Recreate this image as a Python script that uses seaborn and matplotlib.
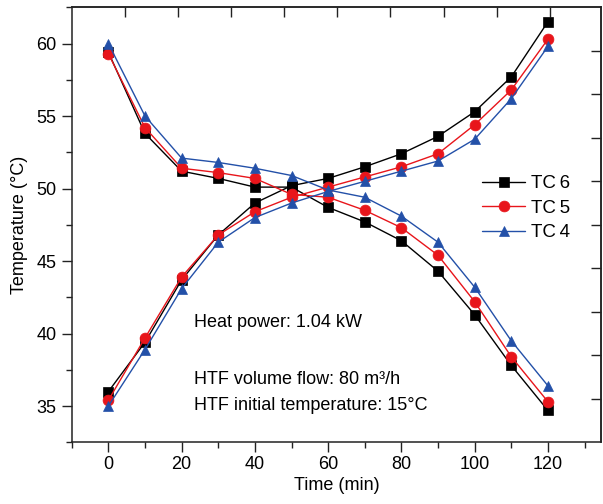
import numpy as np
import pandas as pd
import matplotlib
matplotlib.use("Agg")
import matplotlib.pyplot as plt
import seaborn as sns
from matplotlib.ticker import MultipleLocator, NullFormatter
from matplotlib.lines import Line2D

sns.set_theme(style="ticks")
plt.rcParams["font.family"] = ["Liberation Sans", "DejaVu Sans"]
plt.rcParams["text.color"] = "black"
plt.rcParams["axes.labelcolor"] = "black"
plt.rcParams["xtick.labelcolor"] = "black"
plt.rcParams["ytick.labelcolor"] = "black"

# Measured temperatures (°C) every 10 min for three thermocouples
time_min = [0, 10, 20, 30, 40, 50, 60, 70, 80, 90, 100, 110, 120]

tc6_falling = [59.4, 53.8, 51.2, 50.7, 50.1, 50.1, 48.7, 47.7, 46.4, 44.3, 41.3, 37.8, 34.7]
tc5_falling = [59.3, 54.2, 51.4, 51.1, 50.7, 49.6, 49.4, 48.5, 47.3, 45.4, 42.2, 38.4, 35.3]
tc4_falling = [60.0, 55.0, 52.1, 51.8, 51.4, 50.9, 49.9, 49.4, 48.1, 46.3, 43.2, 39.5, 36.4]

tc6_rising = [36.0, 39.4, 43.7, 46.8, 49.0, 50.2, 50.7, 51.5, 52.4, 53.6, 55.3, 57.7, 61.5]
tc5_rising = [35.4, 39.7, 43.9, 46.8, 48.4, 49.4, 50.1, 50.8, 51.5, 52.4, 54.4, 56.8, 60.3]
tc4_rising = [35.0, 38.9, 43.1, 46.3, 48.0, 49.0, 49.8, 50.5, 51.2, 51.9, 53.4, 56.2, 59.8]

sensors = ["TC\u20096", "TC\u20095", "TC\u20094"]
colors = ["#000000", "#E8151B", "#2350A8"]
markers = ["s", "o", "^"]

series = {
    sensors[0]: (tc6_falling, tc6_rising),
    sensors[1]: (tc5_falling, tc5_rising),
    sensors[2]: (tc4_falling, tc4_rising),
}

rows = []
for name, (falling, rising) in series.items():
    for t, v in zip(time_min, falling):
        rows.append({"time": t, "temp": v, "sensor": name, "branch": "falling"})
    for t, v in zip(time_min, rising):
        rows.append({"time": t, "temp": v, "sensor": name, "branch": "rising"})
df = pd.DataFrame(rows)

fig = plt.figure(figsize=(6.03, 5.04), dpi=100)
ax = fig.add_axes([0.119, 0.1224, 0.8777, 0.8631])

palette = dict(zip(sensors, colors))
marker_map = dict(zip(sensors, markers))

sns.lineplot(
    data=df, x="time", y="temp", hue="sensor", style="sensor",
    units="branch", estimator=None, hue_order=sensors, style_order=sensors,
    palette=palette, markers=marker_map, dashes=False,
    linewidth=1.0, markersize=7.8, markeredgewidth=0.5, legend=False, ax=ax,
)
for line in ax.lines:
    line.set_markeredgecolor(line.get_color())

ax.set_xlim(-10, 134.5)
ax.set_ylim(32.5, 62.5)
ax.xaxis.set_major_locator(MultipleLocator(20))
ax.xaxis.set_minor_locator(MultipleLocator(10))
ax.yaxis.set_major_locator(MultipleLocator(5))
ax.yaxis.set_minor_locator(MultipleLocator(2.5))
ax.tick_params(which="major", direction="out", length=7, width=1.0,
               labelsize=13, color="#222222", pad=4)
ax.tick_params(which="minor", direction="out", length=4, width=1.0, color="#222222")
ax.tick_params(axis="x", pad=3)
for s in ax.spines.values():
    s.set_linewidth(1.1)
    s.set_color("#222222")

# Inward ticks on the top and right frame
top = ax.secondary_xaxis("top")
top.set_xticks(np.arange(4.5, 121, 14.5))
top.xaxis.set_major_formatter(NullFormatter())
top.tick_params(direction="in", length=7, width=1.0, color="#222222")
top.spines["top"].set_linewidth(1.1)
right = ax.secondary_yaxis("right")
right.set_yticks(np.arange(35.5, 60, 3))
right.yaxis.set_major_formatter(NullFormatter())
right.tick_params(direction="in", length=7, width=1.0, color="#222222")
right.spines["right"].set_linewidth(1.1)

ax.set_xlabel("Time (min)", fontsize=13, labelpad=3)
ax.set_ylabel("Temperature (°C)", fontsize=13, labelpad=6)

handles = [
    Line2D([], [], color=c, marker=m, markersize=7.8, linewidth=1.0,
           markeredgewidth=0.5, markeredgecolor=c, label=n)
    for n, c, m in zip(sensors, colors, markers)
]
ax.legend(handles=handles, loc="upper left", bbox_to_anchor=(0.761, 0.6315),
          frameon=False, fontsize=13.5, handlelength=2.3, handletextpad=0.33,
          labelspacing=0.4, borderaxespad=0)

ax.text(23.4, 40.46, "Heat power: 1.04 kW", fontsize=13, va="baseline")
ax.text(23.4, 36.55, "HTF volume flow: 80 m³/h", fontsize=13, va="baseline")
ax.text(23.4, 34.71, "HTF initial temperature: 15°C", fontsize=13, va="baseline")

fig.savefig("out.png", dpi=100)
